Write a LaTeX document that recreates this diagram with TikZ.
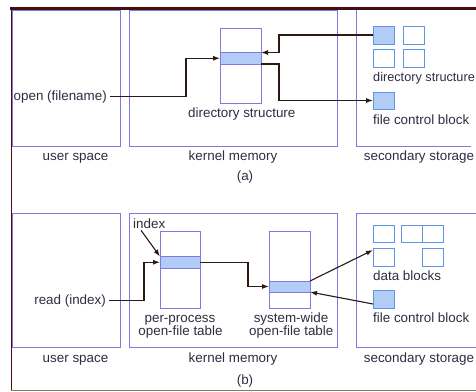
\documentclass[tikz,border=0pt]{standalone}
\usepackage{fontspec}
\setmainfont{Liberation Sans}
\usetikzlibrary{arrows.meta,calc}
\definecolor{framec}{RGB}{70,15,15}
\definecolor{bottomc}{RGB}{125,125,105}
\definecolor{boxc}{RGB}{130,120,225}
\definecolor{sqc}{RGB}{95,150,225}
\definecolor{hlc}{RGB}{178,205,245}
\definecolor{connc}{RGB}{45,25,20}
\definecolor{txtc}{RGB}{45,45,65}
\begin{document}
\begin{tikzpicture}[x=1pt,y=-1pt,
  region/.style={draw=boxc, line width=0.8pt, inner sep=0pt, outer sep=0pt},
  tbl/.style={draw=boxc, line width=0.8pt, fill=white, inner sep=0pt, outer sep=0pt},
  band/.style={draw=boxc, line width=0.8pt, fill=hlc, inner sep=0pt, outer sep=0pt},
  sq/.style={draw=sqc, line width=0.8pt, inner sep=0pt, outer sep=0pt,
             minimum width=21pt, minimum height=18pt},
  sqfill/.style={sq, fill=hlc},
  lbl/.style={text=txtc, font=\fontsize{13.4}{15}\selectfont, inner sep=0pt, anchor=base},
  lblw/.style={lbl, anchor=base west},
  lble/.style={lbl, anchor=base east},
  conn/.style={draw=connc, line width=1.1pt, line join=miter,
               -{Latex[length=7pt,width=5pt]}}]
\useasboundingbox (0,0) rectangle (476,391);

% outer frame
\draw[framec, line width=3pt] (10,8.5) -- (476,8.5);
\draw[framec, line width=1pt] (11,8.5) -- (11,390);
\draw[bottomc, line width=0.8pt] (11,390) -- (476,390);

% ---------------- (a) open ----------------
\node[region, minimum width=108pt, minimum height=136pt] (usA) at (66,78) {};
\node[region, minimum width=208pt, minimum height=136pt] (kmA) at (233,78) {};
\draw[region] (356,10) |- (471,146);

\node[lbl] (usAl) at (75.5,160) {user space};
\node[lbl] (kmAl) at (233,160) {kernel memory};
\node[lbl] (ssAl) at (419,160) {secondary storage};
\node[lbl] (capA) at (245,180) {(a)};

% in-memory directory structure
\node[tbl, minimum width=41pt, minimum height=75pt] (tabA) at (240.5,65.5) {};
\node[band, minimum width=41pt, minimum height=11.5pt] (bandA) at (240.5,58.25) {};
\node[lbl] (tabAl) at (241.8,117.5) {directory structure};

% on-disk directory structure and FCB
\node[sqfill] (d11) at (383.5,35) {};
\node[sq] (d12) at (413.5,35) {};
\node[sq] (d21) at (383.5,58) {};
\node[sq] (d22) at (413.5,58) {};
\node[lblw, font=\fontsize{12.7}{15}\selectfont] (dsAl) at (373,81) {directory structure};
\node[sqfill, minimum height=17pt] (fcbA) at (383.5,100.5) {};
\node[lblw] (fcbAl) at (373,124) {file control block};

\node[lble] (openA) at (107,100) {open (filename)};

\coordinate (jA) at (186,0);
\coordinate (kA) at (279,0);
\draw[conn] ([xshift=3pt]openA.east) -- (openA.east -| jA) -- (jA |- bandA.west) -- (bandA.west);
\draw[conn] (d11.west) -- (d11.west -| kA) -- (kA |- bandA.north east) -- (bandA.north east);
\draw[conn] (bandA.south east) -- (bandA.south east -| kA) -- (kA |- fcbA.west) -- (fcbA.west);

% ---------------- (b) read ----------------
\node[region, minimum width=108pt, minimum height=134pt] (usB) at (66,280) {};
\node[region, minimum width=208pt, minimum height=134pt] (kmB) at (233,280) {};
\draw[region] (476,213) -| (356,347) -- (476,347);

\node[lbl] (usBl) at (75.5,362) {user space};
\node[lbl] (kmBl) at (233,362) {kernel memory};
\node[lbl] (ssBl) at (419,362) {secondary storage};
\node[lbl] (capB) at (245,384) {(b)};

% per-process open-file table
\node[tbl, minimum width=40pt, minimum height=77pt] (tabB1) at (180,269.5) {};
\node[band, minimum width=40pt, minimum height=11.5pt] (bandB1) at (180,262.25) {};
\node[lbl] (ppl1) at (180,322) {per-process};
\node[lbl] (ppl2) at (180.5,335) {open-file table};

% system-wide open-file table
\node[tbl, minimum width=41pt, minimum height=77pt] (tabB2) at (289.5,269.5) {};
\node[band, minimum width=41pt, minimum height=11pt] (bandB2) at (289.5,286.5) {};
\node[lbl] (swl1) at (291,322) {system-wide};
\node[lbl] (swl2) at (291.3,335) {open-file table};

% data blocks and FCB on disk
\node[sq, minimum height=17pt] (b11) at (383.5,233.5) {};
\node[sq, minimum height=17pt] (b12) at (411.5,233.5) {};
\node[sq, minimum height=17pt] (b13) at (432.5,233.5) {};
\node[sq] (d21b) at (383.5,257) {};
\node[sq] (b23) at (432.5,257) {};
\node[lblw] (dbl) at (373,280) {data blocks};
\node[sqfill] (fcbB) at (383.5,299) {};
\node[lblw] (fcbBl) at (373,322) {file control block};

\node[lble] (readB) at (106,304) {read (index)};
\node[lblw] (indexB) at (133,228) {index};

\coordinate (jB) at (144,0);
\coordinate (kB) at (248,0);
\draw[conn] ([xshift=3pt]readB.east) -- (readB.east -| jB) -- (jB |- bandB1.west) -- (bandB1.west);
\draw[conn] ($(indexB.south west)+(8,2)$) -- (bandB1.north west);
\draw[conn] (bandB1.east) -- (bandB1.east -| kB) -- (kB |- bandB2.west) -- (bandB2.west);
\draw[conn] (bandB2.north east) -- ($(d21b.north west)+(0,2)$);
\draw[conn] ($(fcbB.west)+(0,5)$) -- (bandB2.south east);
\end{tikzpicture}
\end{document}
